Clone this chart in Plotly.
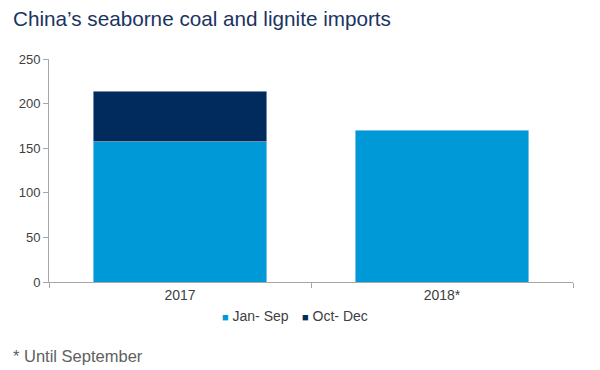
import plotly.graph_objects as go

categories = ["2017", "2018*"]
jan_sep = [157, 170]
oct_dec = [57, None]
y_ticks = [0, 50, 100, 150, 200, 250]
series_names = ["Jan- Sep", "Oct- Dec"]
series_colors = ["#0099d8", "#002b5c"]

fig = go.Figure()
fig.add_trace(go.Bar(x=categories, y=jan_sep, name=series_names[0], marker_color=series_colors[0]))
fig.add_trace(go.Bar(x=categories, y=oct_dec, name=series_names[1], marker_color=series_colors[1]))

W, H = 600, 370
L, R, T, B = 49, 27, 59, 88
pw, ph = W - L - R, H - T - B

def px(x):
    return (x - L) / pw

def py(y):
    return (H - B - y) / ph

annotations = [
    dict(text="China’s seaborne coal and lignite imports", xref="paper", yref="paper",
         x=px(11), y=py(19), xanchor="left", yanchor="middle", showarrow=False,
         font=dict(size=20.7, color="#1a3461")),
    dict(text="* Until September", xref="paper", yref="paper", x=px(11), y=py(356),
         xanchor="left", yanchor="middle", showarrow=False,
         font=dict(size=16.5, color="#606060")),
]
legend_x = [220, 300]
for name, color, lx in zip(series_names, series_colors, legend_x):
    annotations.append(dict(
        text=f"<span style='color:{color};font-size:11px'>■</span> {name}",
        xref="paper", yref="paper", x=px(lx), y=py(316), xanchor="left", yanchor="middle",
        showarrow=False, font=dict(size=14, color="#404040")))

fig.update_layout(
    barmode="stack",
    bargap=0.336,
    width=W, height=H,
    margin=dict(l=L, r=R, t=T, b=B, autoexpand=False),
    plot_bgcolor="white", paper_bgcolor="white",
    font=dict(family="Liberation Sans, Arial, sans-serif", size=13, color="#404040"),
    showlegend=False,
    xaxis=dict(showline=True, linecolor="#a6a6a6", ticks="outside", tickcolor="#a6a6a6",
               ticklen=5, tickson="boundaries", showgrid=False, tickfont=dict(size=14)),
    yaxis=dict(range=[0, 250], tickvals=y_ticks, showline=True, linecolor="#a6a6a6",
               ticks="outside", tickcolor="#a6a6a6", ticklen=5, showgrid=False, zeroline=False,
               tickfont=dict(size=13)),
    annotations=annotations,
)
fig.write_html("out.html", config={"displayModeBar": False},
               post_script="document.body.style.margin='0';")
